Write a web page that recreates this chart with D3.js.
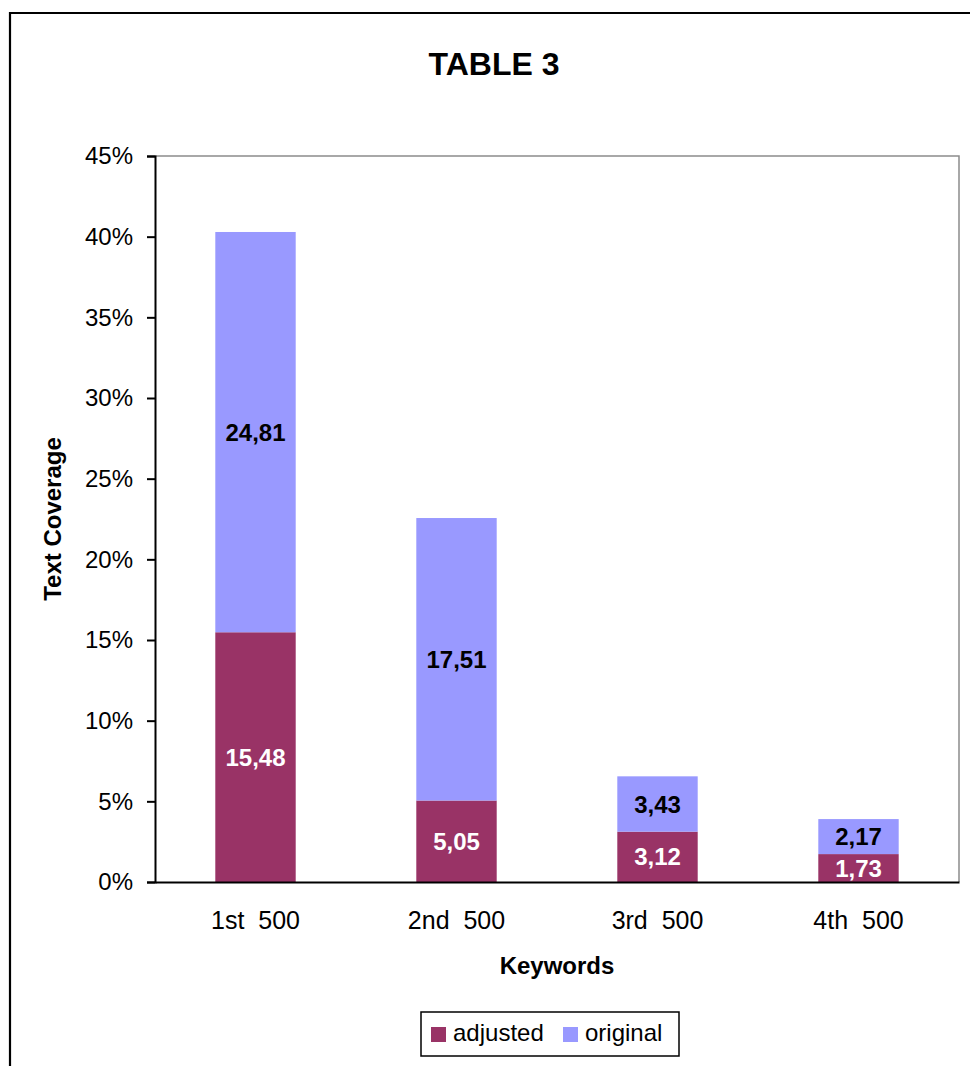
<!DOCTYPE html>
<html>
<head>
<meta charset="utf-8">
<script src="https://cdn.jsdelivr.net/npm/d3@7"></script>
<style>
  body { margin: 0; background: #fff; }
  svg { display: block; font-family: Arial, "Liberation Sans", sans-serif; }
  text { white-space: pre; }
</style>
</head>
<body>
<svg width="970" height="1066"></svg>
<script>
// values (percent)
var categories = ["1st  500", "2nd  500", "3rd  500", "4th  500"]
var adjusted = [15.48, 5.05, 3.12, 1.73]
var original = [24.81, 17.51, 3.43, 2.17]
var seriesNames = ["adjusted", "original"]
var yTicks = [0, 5, 10, 15, 20, 25, 30, 35, 40, 45]

var colors = {adjusted: "#993366", original: "#9999FF"}
var plot = {left: 155, right: 959, top: 156, bottom: 882}

var svg = d3.select("svg")

// outer chart border (cut off at right / bottom like the picture)
svg.append("path")
    .attr("d", "M10,1070 L10,13 L975,13")
    .attr("fill", "none")
    .attr("stroke", "#000")
    .attr("stroke-width", 2.2)

svg.append("text")
    .attr("x", 494)
    .attr("y", 75)
    .attr("text-anchor", "middle")
    .attr("font-size", "32px")
    .attr("font-weight", "bold")
    .text("TABLE 3")

var xScale = d3.scaleBand()
    .domain(categories)
    .range([plot.left, plot.right])
    .paddingInner(0.6)
    .paddingOuter(0.3)

var yScale = d3.scaleLinear()
    .domain([0, 45])
    .range([plot.bottom, plot.top])

// plot area frame (grey top/right)
svg.append("path")
    .attr("d", "M" + plot.left + "," + plot.top + " L" + plot.right + "," + plot.top + " L" + plot.right + "," + plot.bottom)
    .attr("fill", "none")
    .attr("stroke", "#8c8c8c")
    .attr("stroke-width", 1.5)

// stacked data
var rows = categories.map(function(c, i) {
    return {cat: c, adjusted: adjusted[i], original: original[i]}
})
var stacked = d3.stack().keys(seriesNames)(rows)

var layers = svg.append("g")
    .selectAll("g")
    .data(stacked)
    .enter()
    .append("g")
    .attr("fill", function(d) { return colors[d.key] })

layers.selectAll("rect")
    .data(function(d) { return d })
    .enter()
    .append("rect")
    .attr("x", function(d) { return xScale(d.data.cat) })
    .attr("width", xScale.bandwidth())
    .attr("y", function(d) { return yScale(d[1]) })
    .attr("height", function(d) { return yScale(d[0]) - yScale(d[1]) })

// value labels in the middle of each segment
layers.each(function(layer) {
    d3.select(this.parentNode)
        .append("g")
        .selectAll("text")
        .data(layer)
        .enter()
        .append("text")
        .attr("x", function(d) { return xScale(d.data.cat) + xScale.bandwidth() / 2 })
        .attr("y", function(d) { return (yScale(d[0]) + yScale(d[1])) / 2 })
        .attr("dy", "0.36em")
        .attr("text-anchor", "middle")
        .attr("font-size", "24px")
        .attr("font-weight", "bold")
        .attr("fill", layer.key == "adjusted" ? "#fff" : "#000")
        .text(function(d) { return d3.format(".2f")(d.data[layer.key]).replace(".", ",") })
})

// axes
var yAxis = d3.axisLeft(yScale)
    .tickValues(yTicks)
    .tickSize(8)
    .tickPadding(14)
    .tickFormat(function(d) { return d + "%" })

var gy = svg.append("g")
    .attr("transform", "translate(" + plot.left + ",0)")
    .call(yAxis)
gy.select(".domain").attr("stroke", "#000").attr("stroke-width", 2)
gy.selectAll(".tick line").attr("stroke", "#000").attr("stroke-width", 2)
gy.selectAll(".tick text")
    .attr("font-size", "24px")
    .attr("font-family", "Arial, 'Liberation Sans', sans-serif")
    .attr("fill", "#000")

var xAxis = d3.axisBottom(xScale)
    .tickSize(0)
    .tickPadding(29)

var gx = svg.append("g")
    .attr("transform", "translate(0," + plot.bottom + ")")
    .call(xAxis)
gx.select(".domain").attr("stroke", "#000").attr("stroke-width", 2)
gx.selectAll(".tick text")
    .attr("font-size", "25px")
    .attr("font-family", "Arial, 'Liberation Sans', sans-serif")
    .attr("fill", "#000")

// axis titles
svg.append("text")
    .attr("x", 557)
    .attr("y", 974)
    .attr("text-anchor", "middle")
    .attr("font-size", "24px")
    .attr("font-weight", "bold")
    .text("Keywords")

svg.append("text")
    .attr("transform", "translate(61," + (plot.top + plot.bottom) / 2 + ") rotate(-90)")
    .attr("text-anchor", "middle")
    .attr("font-size", "24px")
    .attr("font-weight", "bold")
    .text("Text Coverage")

// legend
svg.append("rect")
    .attr("x", 421)
    .attr("y", 1012)
    .attr("width", 258)
    .attr("height", 44)
    .attr("fill", "#fff")
    .attr("stroke", "#000")
    .attr("stroke-width", 1.5)

var legendX = [431, 563]
var items = svg.selectAll(".leg")
    .data(seriesNames)
    .enter()
    .append("g")
    .attr("class", "leg")
    .attr("transform", function(d, i) { return "translate(" + legendX[i] + ",1027)" })

items.append("rect")
    .attr("width", 15)
    .attr("height", 15)
    .attr("fill", function(d) { return colors[d] })

items.append("text")
    .attr("x", 22)
    .attr("y", 14)
    .attr("font-size", "24px")
    .text(function(d) { return d })
</script>
</body>
</html>
